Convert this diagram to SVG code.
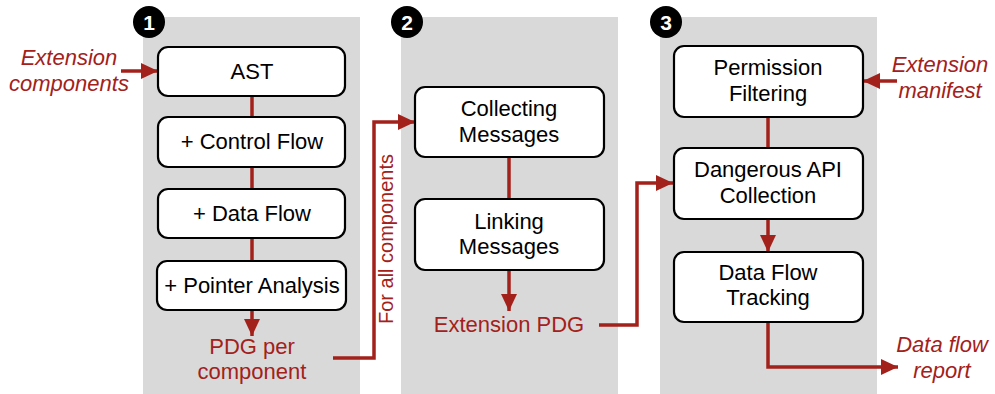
<svg xmlns="http://www.w3.org/2000/svg" width="995" height="394" viewBox="0 0 995 394">
<defs>
<style>
.panel{fill:#d9d9d9}
.box{fill:#fff;stroke:#000;stroke-width:2.2}
.t{font-family:"Liberation Sans",Arial,sans-serif;font-size:22px;fill:#000;text-anchor:middle}
.r{font-family:"Liberation Sans",Arial,sans-serif;font-size:22px;fill:#a3211b;text-anchor:middle}
.ri{font-style:italic}
.badge{fill:#000}
.bn{font-family:"Liberation Sans",Arial,sans-serif;font-size:21px;font-weight:bold;fill:#fff;text-anchor:middle}
.c{fill:none;stroke:#a3211b;stroke-width:3.5}
.a{marker-end:url(#ah)}
</style>
<marker id="ah" markerUnits="userSpaceOnUse" markerWidth="18" markerHeight="18" refX="17" refY="8" orient="auto" viewBox="0 0 18 16">
<path d="M0,0 L17,8 L0,16 z" fill="#a3211b"/>
</marker>
</defs>
<g id="panels">
<rect class="panel" x="143" y="17" width="217" height="377"/>
<rect class="panel" x="401" y="17" width="217" height="377"/>
<rect class="panel" x="660" y="17" width="217" height="377"/>
</g>
<g id="badges">
<g id="badge1"><circle class="badge" cx="149" cy="22" r="16"/><text class="bn" x="149" y="30">1</text></g>
<g id="badge2"><circle class="badge" cx="407" cy="22" r="16"/><text class="bn" x="407" y="30">2</text></g>
<g id="badge3"><circle class="badge" cx="666" cy="22" r="16"/><text class="bn" x="666" y="30">3</text></g>
</g>
<g id="connectors">
<line class="c" x1="252" y1="96" x2="252" y2="117"/>
<line class="c" x1="252" y1="167" x2="252" y2="189"/>
<line class="c" x1="252" y1="238" x2="252" y2="261"/>
<line class="c a" x1="252" y1="310" x2="252" y2="336"/>
<line class="c a" x1="121" y1="71" x2="158" y2="71"/>
<polyline class="c a" points="333,358 374,358 374,122 415,122"/>
<line class="c" x1="509" y1="157" x2="509" y2="199"/>
<line class="c a" x1="509" y1="270" x2="509" y2="311"/>
<polyline class="c a" points="599,325 637,325 637,183 673,183"/>
<line class="c" x1="768" y1="117" x2="768" y2="148"/>
<line class="c a" x1="768" y1="219" x2="768" y2="252"/>
<line class="c a" x1="897" y1="81" x2="863" y2="81"/>
<polyline class="c a" points="768,322 768,367 898,367"/>
</g>
<g id="ast"><rect class="box" x="158" y="47" width="187" height="49" rx="10"/><text class="t" x="252" y="79">AST</text></g>
<g id="control-flow"><rect class="box" x="158" y="117" width="187" height="50" rx="10"/><text class="t" x="252" y="149">+ Control Flow</text></g>
<g id="data-flow"><rect class="box" x="158" y="189" width="187" height="49" rx="10"/><text class="t" x="252" y="221">+ Data Flow</text></g>
<g id="pointer-analysis"><rect class="box" x="157" y="261" width="189" height="49" rx="10"/><text class="t" x="252" y="293">+ Pointer Analysis</text></g>
<g id="collecting"><rect class="box" x="415" y="87" width="189" height="70" rx="10"/><text class="t" x="509" y="116">Collecting</text><text class="t" x="509" y="142">Messages</text></g>
<g id="linking"><rect class="box" x="415" y="199" width="189" height="71" rx="10"/><text class="t" x="509" y="229">Linking</text><text class="t" x="509" y="254">Messages</text></g>
<g id="permission"><rect class="box" x="674" y="46" width="189" height="71" rx="10"/><text class="t" x="768" y="75">Permission</text><text class="t" x="768" y="101">Filtering</text></g>
<g id="dangerous-api"><rect class="box" x="674" y="148" width="189" height="71" rx="10"/><text class="t" x="768" y="177">Dangerous API</text><text class="t" x="768" y="203">Collection</text></g>
<g id="data-flow-tracking"><rect class="box" x="674" y="252" width="189" height="70" rx="10"/><text class="t" x="768" y="280">Data Flow</text><text class="t" x="768" y="305">Tracking</text></g>
<g id="labels">
<text class="r ri" x="69" y="65">Extension</text>
<text class="r ri" x="69" y="91">components</text>
<text class="r" x="252" y="354">PDG per</text>
<text class="r" x="252" y="379">component</text>
<text class="r" x="393" y="239" font-size="20" transform="rotate(-90 393 239)" style="font-size:20px">For all components</text>
<text class="r" x="509" y="332">Extension PDG</text>
<text class="r ri" x="940" y="72">Extension</text>
<text class="r ri" x="940" y="98">manifest</text>
<text class="r ri" x="942" y="352">Data flow</text>
<text class="r ri" x="942" y="378">report</text>
</g>
</svg>
